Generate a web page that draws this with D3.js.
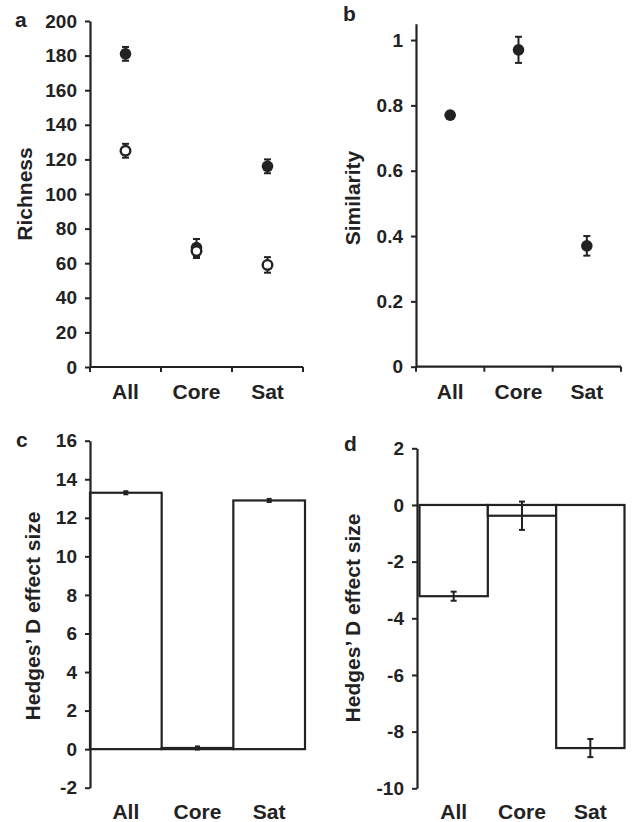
<!DOCTYPE html>
<html>
<head>
<meta charset="utf-8">
<script src="https://cdn.jsdelivr.net/npm/d3@7"></script>
<style>
  html, body { margin: 0; padding: 0; background: #fff; }
  svg text { font-family: "Liberation Sans", Arial, Helvetica, sans-serif; font-weight: bold; fill: #222; }
</style>
</head>
<body>
<svg id="chart" width="636" height="822"></svg>
<script>
// ---------------- data ----------------
const categories = ["All", "Core", "Sat"];

// panel a: richness (filled and open symbols)
const richnessFilled    = [181, 69, 116];
const richnessFilledErr = [4, 5, 4];
const richnessOpen      = [125, 67, 59];
const richnessOpenErr   = [4, 4, 4.5];
const richnessTicks     = [0, 20, 40, 60, 80, 100, 120, 140, 160, 180, 200];

// panel b: similarity
const similarity    = [0.77, 0.97, 0.37];
const similarityErr = [0.005, 0.04, 0.03];
const similarityTicks = [0, 0.2, 0.4, 0.6, 0.8, 1];

// panel c: Hedges' D effect size
const hedgesC    = [13.3, 0.06, 12.9];
const hedgesCErr = [0.08, 0.08, 0.08];
const hedgesCTicks = [-2, 0, 2, 4, 6, 8, 10, 12, 14, 16];

// panel d: Hedges' D effect size
const hedgesD    = [-3.22, -0.38, -8.58];
const hedgesDErr = [0.16, 0.5, 0.32];
const hedgesDTicks = [-10, -8, -6, -4, -2, 0, 2];

// ---------------- drawing ----------------
const svg = d3.select("#chart");
const ink = "#222";
const fmt = d => String(Math.round(d * 10) / 10);

function yAxis(g, y, ticks) {
  const ax = d3.axisLeft(y).tickValues(ticks).tickFormat(fmt)
    .tickSize(5).tickSizeOuter(0).tickPadding(8);
  g.call(ax);
  g.select(".domain").attr("stroke", ink).attr("stroke-width", 2.2);
  g.selectAll(".tick line").attr("stroke", ink).attr("stroke-width", 2);
  g.selectAll(".tick text").attr("font-size", 19).attr("fill", ink)
    .style("font-family", '"Liberation Sans", Arial, sans-serif').style("font-weight", "bold");
}

function xLabels(g, x, baseline) {
  g.selectAll("text.xl").data(categories).join("text")
    .attr("class", "xl")
    .attr("x", d => x(d) + x.bandwidth() / 2)
    .attr("y", baseline)
    .attr("text-anchor", "middle")
    .attr("font-size", 21)
    .text(d => d);
}

function title(txt, x, yc) {
  svg.append("text")
    .attr("transform", `translate(${x},${yc}) rotate(-90)`)
    .attr("text-anchor", "middle")
    .attr("font-size", 21)
    .text(txt);
}

function panelLabel(txt, x, y) {
  svg.append("text").attr("x", x).attr("y", y).attr("font-size", 21).text(txt);
}

function errorBars(g, x, y, vals, errs, cap) {
  const cx = i => x(categories[i]) + x.bandwidth() / 2;
  const eg = g.append("g").attr("stroke", ink).attr("stroke-width", 2);
  vals.forEach((v, i) => {
    eg.append("line").attr("x1", cx(i)).attr("x2", cx(i))
      .attr("y1", y(v - errs[i])).attr("y2", y(v + errs[i]));
    [v - errs[i], v + errs[i]].forEach(e => {
      eg.append("line").attr("x1", cx(i) - cap / 2).attr("x2", cx(i) + cap / 2)
        .attr("y1", y(e)).attr("y2", y(e));
    });
  });
}

function xAxisTicks(g, x, y0) {
  const L = x.range()[0], R = x.range()[1];
  g.append("line").attr("x1", L).attr("x2", R).attr("y1", y0).attr("y2", y0)
    .attr("stroke", ink).attr("stroke-width", 2.2);
  const bounds = categories.map(c => x(c)).concat([R]);
  g.selectAll("line.xt").data(bounds).join("line").attr("class", "xt")
    .attr("x1", d => d).attr("x2", d => d)
    .attr("y1", y0).attr("y2", y0 + 5)
    .attr("stroke", ink).attr("stroke-width", 2);
}

// ---- Panel a ----
{
  const x = d3.scaleBand().domain(categories).range([90, 303]).padding(0);
  const y = d3.scaleLinear().domain([0, 200]).range([367, 21]);
  const g = svg.append("g");
  yAxis(g.append("g").attr("transform", "translate(90,0)"), y, richnessTicks);
  xAxisTicks(g, x, y(0));
  xLabels(g, x, 399);
  errorBars(g, x, y, richnessFilled, richnessFilledErr, 7);
  errorBars(g, x, y, richnessOpen, richnessOpenErr, 7);
  g.selectAll("circle.f").data(richnessFilled).join("circle").attr("class", "f")
    .attr("cx", (d, i) => x(categories[i]) + x.bandwidth() / 2)
    .attr("cy", d => y(d)).attr("r", 5.8).attr("fill", ink);
  g.selectAll("circle.o").data(richnessOpen).join("circle").attr("class", "o")
    .attr("cx", (d, i) => x(categories[i]) + x.bandwidth() / 2)
    .attr("cy", d => y(d)).attr("r", 4.8).attr("fill", "#fff")
    .attr("stroke", ink).attr("stroke-width", 2.4);
  panelLabel("a", 15, 27);
  title("Richness", 32, 194);
}

// ---- Panel b ----
{
  const x = d3.scaleBand().domain(categories).range([416, 621]).padding(0);
  const y = d3.scaleLinear().domain([0, 1.05]).range([366.7, 23.7]);
  const g = svg.append("g");
  yAxis(g.append("g").attr("transform", "translate(416,0)"), y, similarityTicks);
  xAxisTicks(g, x, y(0));
  xLabels(g, x, 399);
  errorBars(g, x, y, similarity, similarityErr, 7);
  g.selectAll("circle.f").data(similarity).join("circle").attr("class", "f")
    .attr("cx", (d, i) => x(categories[i]) + x.bandwidth() / 2)
    .attr("cy", d => y(d)).attr("r", 5.8).attr("fill", ink);
  panelLabel("b", 343, 20.5);
  title("Similarity", 359.5, 198);
}

// ---- Panel c ----
{
  const x = d3.scaleBand().domain(categories).range([90, 305]).padding(0);
  const y = d3.scaleLinear().domain([-2, 16]).range([787.7, 440.7]);
  const g = svg.append("g");
  g.selectAll("rect").data(hedgesC).join("rect")
    .attr("x", (d, i) => x(categories[i]))
    .attr("width", x.bandwidth())
    .attr("y", d => y(Math.max(0, d)))
    .attr("height", d => Math.abs(y(d) - y(0)))
    .attr("fill", "#fff").attr("stroke", ink).attr("stroke-width", 2.2);
  yAxis(g.append("g").attr("transform", "translate(90,0)"), y, hedgesCTicks);
  errorBars(g, x, y, hedgesC, hedgesCErr, 5);
  xLabels(g, x, 819);
  panelLabel("c", 16, 447);
  title("Hedges\u2019 D effect size", 40, 616);
}

// ---- Panel d ----
{
  const x = d3.scaleBand().domain(categories).range([419.5, 624.5]).padding(0);
  const y = d3.scaleLinear().domain([-10, 2]).range([788.3, 448.3]);
  const g = svg.append("g");
  g.selectAll("rect").data(hedgesD).join("rect")
    .attr("x", (d, i) => x(categories[i]))
    .attr("width", x.bandwidth())
    .attr("y", d => y(Math.max(0, d)))
    .attr("height", d => Math.abs(y(d) - y(0)))
    .attr("fill", "#fff").attr("stroke", ink).attr("stroke-width", 2.2);
  yAxis(g.append("g").attr("transform", "translate(417,0)"), y, hedgesDTicks);
  errorBars(g, x, y, hedgesD, hedgesDErr, 6);
  xLabels(g, x, 819);
  panelLabel("d", 344, 451);
  title("Hedges\u2019 D effect size", 359.5, 618);
}
</script>
</body>
</html>
